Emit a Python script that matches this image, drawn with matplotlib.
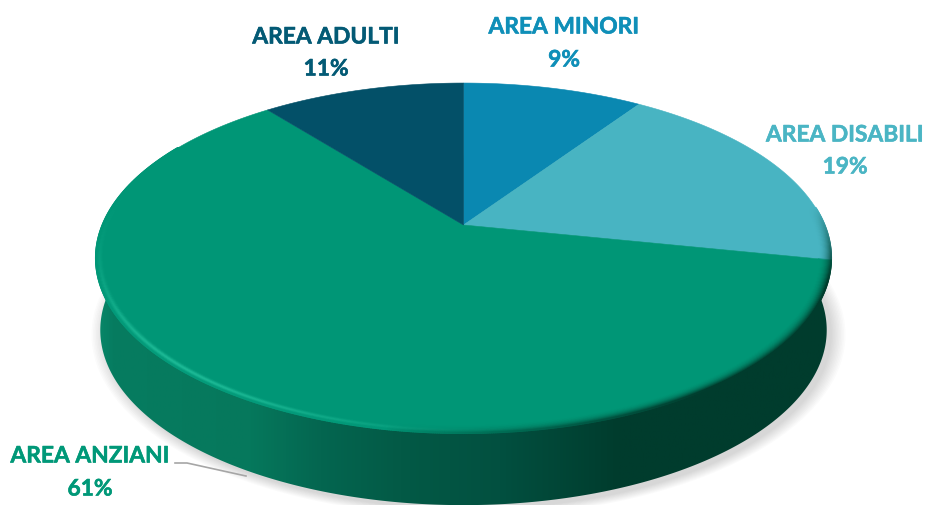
import numpy as np
import matplotlib
matplotlib.use("Agg")
import matplotlib.pyplot as plt
import matplotlib.patheffects as pe
from matplotlib.colors import to_rgb, LinearSegmentedColormap
from matplotlib.collections import LineCollection
from matplotlib.patches import Polygon

# Data (clockwise from the top of the pie)
categories = ["AREA MINORI", "AREA DISABILI", "AREA ANZIANI", "AREA ADULTI"]
percent_labels = ["9%", "19%", "61%", "11%"]
values = [9.5, 18.7, 61.1, 10.7]
slice_colors = ["#0a88b1", "#48b4c2", "#009676", "#035068"]
text_colors = ["#0f8fb8", "#4ab5c4", "#009878", "#035a75"]
label_centers = [(564, 27, 60), (845, 135, 167), (90, 456, 489), (326, 37, 69)]

plt.rcParams["font.family"] = ["Lato", "DejaVu Sans"]
fig = plt.figure(figsize=(9.29, 5.05), dpi=100)
ax = fig.add_axes([0, 0, 1, 1])
ax.set_xlim(0, 929)
ax.set_ylim(505, 0)
ax.axis("off")

CX, CY, A, B, K = 463.5, 225.0, 361.0, 168.8, 0.189
DEPTH, XS = 72.0, 0.988


def project(theta_deg, r=1.0):
    t = np.radians(theta_deg)
    X, Y = r * np.sin(t), r * np.cos(t)
    d = 1 + K * Y
    return CX + A * X / d, CY - B * Y / d


def lower(px, py):
    return CX + (px - CX) * XS, py + DEPTH


all_t = np.linspace(0, 360, 1441)
tx, ty = project(all_t)
bx, by = lower(tx, ty)

# soft shadow beneath the disc
for i in range(10):
    s = 1 + (9 - i) * 0.0042
    ax.fill(CX + 5 + (bx - CX) * s, by + 4 + (by - by.mean()) * (s - 1),
            color="#555555", alpha=0.022, lw=0, zorder=1)

# side wall with horizontal gradient
side_t = np.linspace(88, 276, 700)
sx, sy = project(side_t)
lx, ly = lower(sx, sy)
side_poly = np.column_stack([np.r_[sx, lx[::-1]], np.r_[sy, ly[::-1]]])
stops = [(95, "#08896a"), (112, "#067c60"), (250, "#06785c"), (320, "#046650"),
         (400, "#035a46"), (500, "#025040"), (620, "#003c2d"), (835, "#003c2d")]
pos = [(p - 95) / (835 - 95) for p, _ in stops]
cmap = LinearSegmentedColormap.from_list("side", list(zip(pos, [c for _, c in stops])))
grad = np.linspace(0, 1, 512).reshape(1, -1)
im = ax.imshow(grad, cmap=cmap, extent=(95, 835, 505, 200), aspect="auto", zorder=2)
im.set_clip_path(Polygon(side_poly, closed=True, transform=ax.transData))
ax.set_xlim(0, 929)
ax.set_ylim(505, 0)

# top face
edges = np.r_[0, np.cumsum(values)] / np.sum(values) * 360
for c, t0, t1 in zip(slice_colors, edges[:-1], edges[1:]):
    th = np.linspace(t0, t1, 300)
    px, py = project(th)
    ax.fill(np.r_[CX, px], np.r_[CY, py], color=c, lw=0.4, zorder=3)

# bevel along the rim
base = {i: np.array(to_rgb(c)) for i, c in enumerate(slice_colors)}
light = np.array(to_rgb("#22c09c"))
dark = np.array(to_rgb("#003c2d"))
rim_t = np.linspace(84, 300, 900)
idx = np.clip(np.searchsorted(edges, rim_t) - 1, 0, 3)
lw_h = np.exp(-((rim_t - 222) / 30) ** 2) * np.clip((300 - rim_t) / 25, 0, 1)
dk_h = (np.clip((190 - rim_t) / 45, 0, 1) ** 0.7) * np.clip((rim_t - 84) / 24, 0, 1)
for u in np.linspace(0.0, 1.0, 14):
    rr = 0.968 + 0.032 * u
    pl = np.exp(-((u - 0.72) / 0.2) ** 2)
    pd = u ** 2.2
    px, py = project(rim_t, rr)
    pts = np.column_stack([px, py]).reshape(-1, 1, 2)
    segs = np.concatenate([pts[:-1], pts[1:]], axis=1)
    cols = []
    for j in range(len(segs)):
        c = np.array(base[idx[j]])
        c = c + (light - c) * lw_h[j] * pl * 0.85
        c = c + (dark - c) * dk_h[j] * pd
        cols.append(np.clip(c, 0, 1))
    ax.add_collection(LineCollection(segs, colors=cols, linewidths=1.3, zorder=4,
                                     capstyle="round"))

# labels
for name, pct, col, (x, y1, y2) in zip(categories, percent_labels, text_colors, label_centers):
    for s, y in ((name, y1), (pct, y2)):
        ax.text(x, y, s, color=col, fontsize=16.4, fontweight="bold",
                ha="center", va="center", zorder=6,
                path_effects=[pe.withStroke(linewidth=0.4, foreground=col)])

# leader line of the largest slice
ax.plot([175, 187, 246], [463, 463, 476], color="#a6a6a6", lw=1.2, zorder=5)

fig.savefig("out.png", dpi=100)
